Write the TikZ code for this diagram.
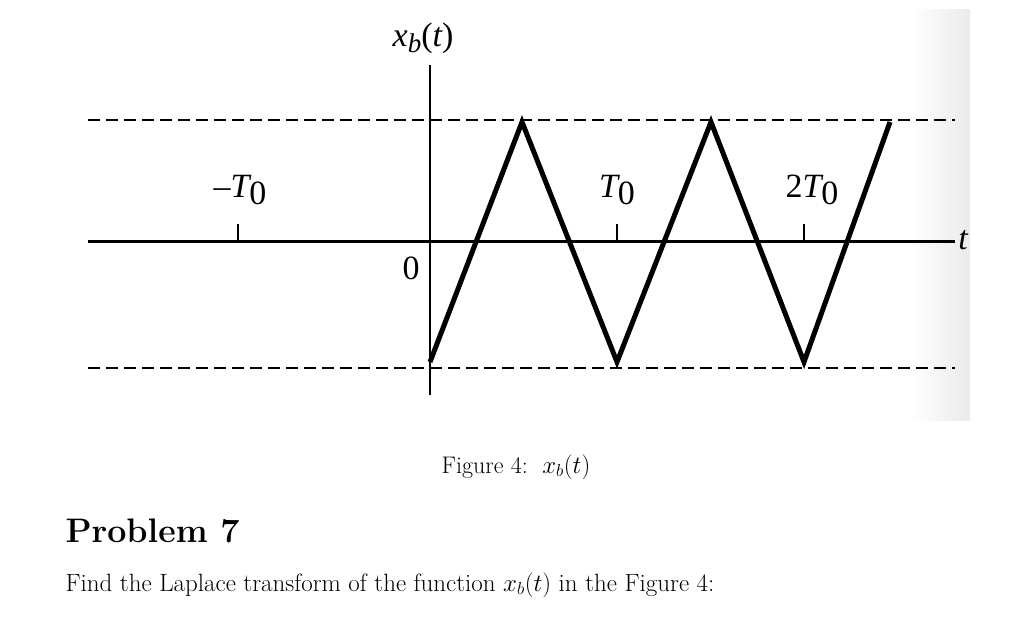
\documentclass[tikz,border=0pt]{standalone}
\usepackage{fontspec}
\newfontfamily\tnr{Liberation Serif}
\begin{document}
\begin{tikzpicture}[x=1pt,y=-1pt,
  lbl/.style={font=\tnr\fontsize{34}{40}\selectfont},
  dsh/.style={dash pattern=on 12pt off 6pt,line width=1.6pt},
  txt/.style={font=\fontsize{25}{30}\selectfont,anchor=west}]
\useasboundingbox (0,0) rectangle (1030,620);
\fill[left color=white,right color=black!8] (910,10) rectangle (970,420);
\draw[dsh] (88,120) -- (955,120);
\draw[dsh] (88,368) -- (955,368);
\draw[line width=3pt] (88,242) -- (955,242);
\draw[line width=1.5pt] (430,65) -- (430,395);
\foreach \x in {238,617,804} \draw[line width=1.5pt] (\x,224) -- (\x,242);
\draw[line width=5pt,line join=miter] (430,362) -- (522,122) -- (617,362) -- (711,122) -- (804,362) -- (890,122);
\node[lbl] (y) at (423,38) {\itshape x\raisebox{-6pt}{\fontsize{27}{30}\selectfont b}\upshape(\itshape t\upshape)};
\node[lbl] (t) at (963,240) {\itshape t};
\node[lbl] (z) at (411,268) {0};
\node[lbl] (m) at (240,190) {–\itshape T\raisebox{-7pt}{\upshape 0}};
\node[lbl] (a) at (617,190) {\itshape T\raisebox{-7pt}{\upshape 0}};
\node[lbl] (b) at (812,190) {2\itshape T\raisebox{-7pt}{\upshape 0}};
\node[font=\fontsize{24}{28}\selectfont] (c) at (516,467) {Figure 4:\ \ $x_b(t)$};
\node[anchor=west,font=\fontsize{34}{38}\selectfont\bfseries] (p) at (62,531) {Problem 7};
\node[txt] (f) at (62,585) {Find the Laplace transform of the function $x_b(t)$ in the Figure 4:};
\end{tikzpicture}
\end{document}
